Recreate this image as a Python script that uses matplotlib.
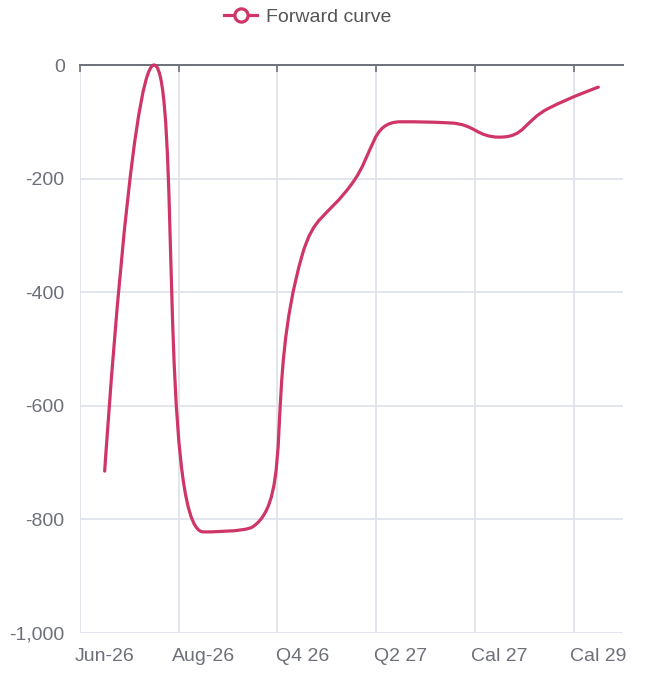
import numpy as np
import matplotlib.pyplot as plt
from matplotlib.path import Path
from matplotlib.patches import PathPatch
from matplotlib.lines import Line2D
from matplotlib.ticker import FuncFormatter

plt.rcParams['font.family'] = ['Liberation Sans', 'DejaVu Sans']

periods = ["Jun-26", "Jul-26", "Aug-26", "Sep-26", "Q4 26", "Q1 27",
           "Q2 27", "Q3 27", "Cal 27", "Cal 28", "Cal 29"]
forward = [-715, 0, -822, -813, -335, -210, -100, -102, -127, -76, -39]
y_ticks = [0, -200, -400, -600, -800, -1000]

line_color = "#cf3566"
axis_color = "#6e7079"
grid_color = "#e0e3eb"


def smooth_path(pts, smooth=0.5):
    # cubic bezier through the points, same control-point rule as echarts lines
    verts = [tuple(pts[0])]
    codes = [Path.MOVETO]
    cpx0, cpy0 = pts[0]
    n = len(pts)
    for i in range(1, n):
        x, y = pts[i]
        px, py = pts[i - 1]
        if i == n - 1:
            cpx1, cpy1 = x, y
            ncx, ncy = x, y
        else:
            nx, ny = pts[i + 1]
            vx, vy = nx - px, ny - py
            lp = np.hypot(x - px, y - py)
            ln = np.hypot(nx - x, ny - y)
            r = ln / (ln + lp)
            ncx = x + vx * smooth * r
            ncy = y + vy * smooth * r
            ncx = min(ncx, max(nx, x)); ncy = min(ncy, max(ny, y))
            ncx = max(ncx, min(nx, x)); ncy = max(ncy, min(ny, y))
            vx, vy = ncx - x, ncy - y
            cpx1 = x - vx * lp / ln
            cpy1 = y - vy * lp / ln
            cpx1 = min(cpx1, max(px, x)); cpy1 = min(cpy1, max(py, y))
            cpx1 = max(cpx1, min(px, x)); cpy1 = max(cpy1, min(py, y))
            vx, vy = x - cpx1, y - cpy1
            ncx = x + vx * ln / lp
            ncy = y + vy * ln / lp
        verts += [(cpx0, cpy0), (cpx1, cpy1), (x, y)]
        codes += [Path.CURVE4] * 3
        cpx0, cpy0 = ncx, ncy
    return np.array(verts), codes


fig = plt.figure(figsize=(6.52, 6.83), dpi=100)
ax = fig.add_axes([80 / 652, 1 - 633 / 683, 543 / 652, 568 / 683])

x = np.arange(len(periods))
ax.set_xlim(-0.5, len(periods) - 0.5)
ax.set_ylim(-1000, 0)

# smooth the curve in pixel space, then bring it back to data coords
disp = ax.transData.transform(np.column_stack([x, forward]))
verts, codes = smooth_path(disp)
verts = ax.transData.inverted().transform(verts)
ax.add_patch(PathPatch(Path(verts, codes), fill=False, edgecolor=line_color,
                       lw=2.3, capstyle='round', joinstyle='round',
                       clip_on=False, zorder=5))

# category labels on every other period, grid on the band edges
ax.set_xticks(x[::2])
ax.set_xticklabels(periods[::2])
ax.set_xticks(np.arange(-0.5, len(periods) - 1, 2), minor=True)
ax.set_yticks(y_ticks)
ax.yaxis.set_major_formatter(FuncFormatter(lambda v, p: f"{v:,.0f}"))

ax.grid(True, which='minor', axis='x', color=grid_color, lw=1.3)
ax.grid(True, which='major', axis='y', color=grid_color, lw=1.3)
ax.set_axisbelow(True)

for s in ['left', 'right', 'bottom']:
    ax.spines[s].set_visible(False)
ax.spines['top'].set_color(axis_color)
ax.spines['top'].set_linewidth(1.4)

ax.tick_params(axis='x', which='major', length=0, pad=11, labelsize=14,
               labelcolor=axis_color)
ax.tick_params(axis='x', which='minor', top=True, bottom=False, direction='in',
               length=5, width=1.2, color=axis_color)
ax.tick_params(axis='y', length=0, pad=11, labelsize=14, labelcolor=axis_color)

handle = Line2D([], [], color=line_color, lw=2.3, marker='o', markersize=9.5,
                markerfacecolor='white', markeredgecolor=line_color,
                markeredgewidth=2.3)
fig.legend([handle], ["Forward curve"], loc='center',
           bbox_to_anchor=(0.472, 0.975), frameon=False, handlelength=1.7,
           handletextpad=0.45, fontsize=14, labelcolor='#555555')

plt.savefig("out.png", dpi=100)
